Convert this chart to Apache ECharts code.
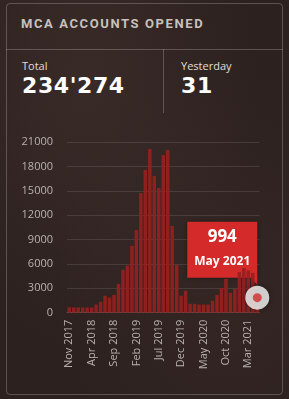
<!DOCTYPE html>
<html>
<head>
<meta charset="utf-8">
<script src="https://cdn.jsdelivr.net/npm/echarts@6.0.0/dist/echarts.min.js"></script>
<style>
  html, body { margin: 0; padding: 0; width: 289px; height: 399px; overflow: hidden; }
  body {
    background:
      radial-gradient(ellipse at 30% 20%, rgba(80,60,55,0.35), rgba(0,0,0,0) 60%),
      radial-gradient(ellipse at 80% 70%, rgba(70,50,45,0.3), rgba(0,0,0,0) 55%),
      #2c211f;
    font-family: "Open Sans", sans-serif;
  }
  .card {
    position: absolute; left: 6px; top: 3px; width: 277px; height: 392px;
    border: 1px solid rgba(255,255,255,0.22); border-radius: 4px; box-sizing: border-box;
  }
  .title {
    position: absolute; left: 21px; top: 16px; color: #c8c1bd;
    font: bold 13px Roboto, sans-serif; letter-spacing: 1.6px;
  }
  .hline { position: absolute; left: 6px; top: 49px; width: 277px; height: 1px; background: rgba(255,255,255,0.22); }
  .vline { position: absolute; left: 163px; top: 49px; width: 1px; height: 64px; background: rgba(255,255,255,0.22); }
  .lbl { position: absolute; top: 58px; color: #e2dcd9; font-size: 11px; }
  .num { position: absolute; top: 73px; color: #fff; font: bold 22px "DejaVu Sans", sans-serif; letter-spacing: 0.6px; }
  #chart { position: absolute; left: 0; top: 0; width: 289px; height: 399px; }
</style>
</head>
<body>
<div class="card"></div>
<div class="title">MCA ACCOUNTS OPENED</div>
<div class="hline"></div>
<div class="vline"></div>
<div class="lbl" style="left:22px">Total</div>
<div class="num" style="left:22px">234'274</div>
<div class="lbl" style="left:181px">Yesterday</div>
<div class="num" style="left:181px">31</div>
<div id="chart"></div>
<script>
const months = [
  'Nov 2017', 'Dec 2017', 'Jan 2018', 'Feb 2018', 'Mar 2018', 'Apr 2018', 'May 2018', 'Jun 2018',
  'Jul 2018', 'Aug 2018', 'Sep 2018', 'Oct 2018', 'Nov 2018', 'Dec 2018', 'Jan 2019', 'Feb 2019',
  'Mar 2019', 'Apr 2019', 'May 2019', 'Jun 2019', 'Jul 2019', 'Aug 2019', 'Sep 2019', 'Oct 2019',
  'Nov 2019', 'Dec 2019', 'Jan 2020', 'Feb 2020', 'Mar 2020', 'Apr 2020', 'May 2020', 'Jun 2020',
  'Jul 2020', 'Aug 2020', 'Sep 2020', 'Oct 2020', 'Nov 2020', 'Dec 2020', 'Jan 2021', 'Feb 2021',
  'Mar 2021', 'Apr 2021', 'May 2021'
];
const accounts = [
  650, 650, 650, 650, 650, 650, 1000, 1350,
  2100, 1850, 2200, 3550, 5300, 5800, 8240, 10200,
  14750, 17580, 20170, 16850, 15370, 19430, 20050, 10700,
  5900, 2090, 2700, 1100, 1100, 1000, 1000, 1000,
  1480, 2180, 3050, 4150, 2460, 2920, 5000, 5500,
  5200, 4900, 994
];
const yMax = 21000;
const yStep = 3000;

const lastIdx = accounts.length - 1;
const lastPoint = [[lastIdx, accounts[lastIdx]]];
const chart = echarts.init(document.getElementById('chart'));

const option = {
  animation: false,
  grid: { left: 67, right: 29.5, top: 142.3, bottom: 86.3 },
  xAxis: {
    type: 'category',
    data: months,
    axisLine: { lineStyle: { color: '#5a504c' } },
    axisTick: { show: false },
    axisLabel: {
      interval: 4, rotate: 90, margin: 7,
      color: '#b9b1ad', fontSize: 11, fontFamily: 'Open Sans'
    }
  },
  yAxis: {
    type: 'value', min: 0, max: yMax, interval: yStep,
    axisLabel: {
      color: '#b9b1ad', fontSize: 11, fontFamily: 'Open Sans', margin: 14,
      formatter: v => String(v)
    },
    splitLine: { lineStyle: { color: 'rgba(255,255,255,0.11)' } }
  },
  series: [
    {
      type: 'bar',
      data: accounts,
      barCategoryGap: '22%',
      itemStyle: { color: 'rgba(150,32,32,0.92)' }
    },
    // highlight marker on the latest month: white disc + red dot
    {
      type: 'scatter',
      data: lastPoint,
      symbolSize: 24,
      symbolOffset: [0, -7],
      clip: false,
      z: 5,
      itemStyle: { color: '#fbfbfb', shadowColor: 'rgba(0,0,0,0.45)', shadowBlur: 5 }
    },
    {
      type: 'scatter',
      data: lastPoint,
      symbolSize: 9,
      symbolOffset: [0, -7],
      clip: false,
      z: 6,
      itemStyle: { color: '#d42a2a' }
    }
  ]
};
chart.setOption(option);

// callout box anchored on the last bar
const p = chart.convertToPixel({ seriesIndex: 0 }, lastPoint[0]);
const boxW = 70, boxH = 56;
const boxR = p[0], boxB = p[1] - 27;
chart.setOption({
  graphic: [
    {
      type: 'group', z: 10,
      children: [
        {
          type: 'rect',
          shape: { x: boxR - boxW, y: boxB - boxH, width: boxW, height: boxH },
          style: { fill: '#d42a2a', shadowColor: 'rgba(0,0,0,0.35)', shadowBlur: 4 }
        },
        {
          type: 'polygon',
          shape: { points: [[boxR - 8, boxB - 1], [boxR, boxB - 1], [boxR, boxB + 7]] },
          style: { fill: '#d42a2a' }
        },
        {
          type: 'text',
          x: boxR - boxW / 2, y: boxB - boxH + 16,
          style: {
            text: String(accounts[lastIdx]), fill: '#fff', align: 'center', verticalAlign: 'middle',
            font: 'bold 17px "Open Sans"'
          }
        },
        {
          type: 'text',
          x: boxR - boxW / 2, y: boxB - boxH + 40,
          style: {
            text: months[lastIdx], fill: '#fff', align: 'center', verticalAlign: 'middle',
            font: 'bold 12px "Open Sans"'
          }
        }
      ]
    }
  ]
});
</script>
</body>
</html>
